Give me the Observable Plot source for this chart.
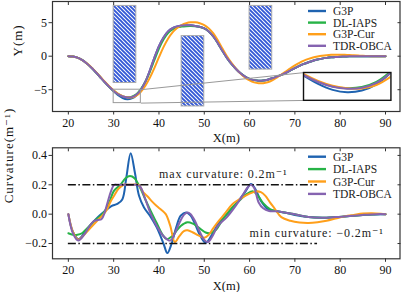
<!DOCTYPE html>
<html><head><meta charset="utf-8">
<script src="https://cdn.jsdelivr.net/npm/d3@7"></script>
<script src="https://cdn.jsdelivr.net/npm/@observablehq/plot@0.6"></script>
<style>
body{margin:0;background:#fff;}
#root{position:relative;width:401px;height:292px;overflow:hidden;font-family:"Liberation Serif","DejaVu Serif",serif;background:#fff;}
#root svg{position:absolute;}
#root svg text{font-family:"Liberation Serif","DejaVu Serif",serif;}
</style></head><body><div id="root"></div>
<script>
// ---------- data ----------
const seriesNames = ["G3P", "DL-IAPS", "G3P-Cur", "TDR-OBCA"];
const seriesColors = ["#1f63b0", "#27b347", "#ff9f1a", "#8563b0"];
const xTicks = [20, 30, 40, 50, 60, 70, 80, 90];
const yTicksTop = [-5, 0, 5];
const yTicksBottom = [-0.2, 0, 0.2, 0.4];

const pathX = [20,21,22,23,24,25,26,27,28,29,30,31,32,33,34,35,36,37,38,39,40,41,42,43,44,45,46,47,48,49,50,51,52,53,54,55,56,57,58,59,60,61,62,63,64,65,66,67,68,69,70,71,72,73,74,75,76,77,78,79,80,81,82,83,84,85,86,87,88,89,90];
const pathG3P = [0,-0.05,-0.22,-0.55,-1.05,-1.65,-2.35,-3.1,-3.85,-4.55,
  -5.22,-5.82,-6.25,-6.42,-6.3,-5.85,-5.0,-3.8,-2.1,-0.2,
  1.5,2.8,3.7,4.2,4.45,4.58,4.62,4.6,4.52,4.38,
  4.15,3.7,2.95,1.95,0.8,-0.25,-1.15,-1.9,-2.55,-3.05,
  -3.38,-3.57,-3.65,-3.62,-3.5,-3.3,-3.05,-2.78,-2.47,-2.13,
  -1.78,-1.45,-1.15,-0.9,-0.68,-0.5,-0.36,-0.25,-0.17,-0.11,
  -0.07,-0.04,-0.02,-0.01,0,0,0,0,0,0,0];
const pathDLIAPS = [0,-0.05,-0.22,-0.55,-1.05,-1.65,-2.35,-3.1,-3.85,-4.55,
  -5.17,-5.66,-6.0,-6.13,-6.05,-5.68,-4.9,-3.8,-2.3,-0.55,
  1.15,2.5,3.45,4.0,4.3,4.42,4.48,4.5,4.47,4.36,
  4.15,3.7,2.95,1.95,0.8,-0.25,-1.15,-1.9,-2.55,-3.05,
  -3.38,-3.57,-3.65,-3.62,-3.5,-3.3,-3.05,-2.78,-2.47,-2.13,
  -1.78,-1.45,-1.15,-0.9,-0.68,-0.5,-0.36,-0.25,-0.17,-0.11,
  -0.07,-0.04,-0.02,-0.01,0,0,0,0,0,0,0];
const pathG3PCur = [0,-0.05,-0.22,-0.55,-1.03,-1.62,-2.3,-3.03,-3.78,-4.48,
  -5.1,-5.6,-5.95,-6.13,-6.15,-5.9,-5.3,-4.4,-3.2,-1.75,
  -0.15,1.35,2.6,3.55,4.2,4.65,4.92,5.05,5.05,4.92,
  4.65,4.15,3.4,2.35,1.15,0.0,-1.0,-1.85,-2.6,-3.2,
  -3.62,-3.9,-4.03,-4.02,-3.88,-3.6,-3.2,-2.75,-2.28,-1.8,
  -1.37,-0.98,-0.66,-0.4,-0.2,-0.05,0.07,0.15,0.2,0.22,
  0.22,0.2,0.17,0.13,0.09,0.05,0.03,0.01,0,0,0];
const pathTDROBCA = [0,-0.05,-0.22,-0.55,-1.05,-1.65,-2.35,-3.1,-3.85,-4.55,
  -5.18,-5.68,-6.02,-6.16,-6.1,-5.75,-5.0,-3.8,-2.1,-0.2,
  1.5,2.8,3.7,4.2,4.45,4.58,4.62,4.6,4.52,4.38,
  4.15,3.7,2.95,1.95,0.8,-0.25,-1.15,-1.9,-2.55,-3.05,
  -3.38,-3.57,-3.65,-3.62,-3.5,-3.3,-3.05,-2.78,-2.47,-2.13,
  -1.78,-1.45,-1.15,-0.9,-0.68,-0.5,-0.36,-0.25,-0.17,-0.11,
  -0.07,-0.04,-0.02,-0.01,0,0,0,0,0,0,0];

// obstacles
const obsX1 = [30, 45, 60];
const obsX2 = [35, 50, 65];
const obsY1 = [-4, -7.5, -2];
const obsY2 = [7.5, 3, 7.5];

// zoomed region and where the inset sits (data coords of the top panel)
const zoomX = [30, 36];
const zoomY = [-7, -5];
const insetX = [72, 91.3];
const insetY = [-6.6, -2.45];

// curvature
const kxG3P = [20,21,22.2,23.5,25,26.5,28,29.5,30.8,31.9,32.8,33.75,34.7,35.6,36.7,38,39.5,41,41.85,42.8,43.8,44.8,46,47,48,49,50.3,51.5,53,55,57,59,60.3,61.3,62.5,64,66,68,70,73,76,80,84,87,90];
const kG3P = [0,-0.12,-0.17,-0.13,-0.07,-0.02,0.02,0.055,0.07,0.1,0.25,0.415,0.28,0.125,0.045,-0.01,-0.09,-0.2,-0.265,-0.2,-0.09,-0.01,0.012,-0.01,-0.07,-0.14,-0.195,-0.15,-0.07,0.0,0.07,0.15,0.205,0.17,0.09,0.035,0.02,0.01,-0.005,-0.02,-0.025,-0.02,-0.008,-0.002,0];
const kxDLIAPS = [20,21,22,23,24,25,26,27,28,28.9,30.1,31.5,32.6,33.6,34.6,36,37,38.2,39.5,40.8,41.7,42.7,43.7,44.8,46.3,47.5,48.7,50.3,51.3,52.5,54,56,58,59.5,60.8,62,63,64.5,66,68,70,73,76,79,82,85,88,90];
const kDLIAPS = [-0.13,-0.14,-0.14,-0.13,-0.1,-0.07,-0.04,-0.015,0.02,0.07,0.16,0.2,0.245,0.26,0.245,0.17,0.1,0.02,-0.06,-0.14,-0.17,-0.155,-0.12,-0.08,-0.055,-0.065,-0.09,-0.125,-0.13,-0.11,-0.04,0.04,0.1,0.14,0.155,0.12,0.075,0.035,0.02,0.01,0.0,-0.02,-0.025,-0.02,-0.012,-0.005,0,0];
const kxG3PCur = [20,21,22.2,23.5,25,26.5,27.5,28.5,29.3,30.1,31,32.2,33,34,35.5,36.5,37.5,38.5,39.5,40.5,41.5,42.5,43.5,44.5,45.5,46.3,47.5,48.7,50,51,52,53.2,54.7,56.2,58.4,60,61.5,62.5,63.5,64.5,65.5,67,69,71,73,75,77,79,81,83,85,87,89,90];
const kG3PCur = [0,-0.12,-0.175,-0.14,-0.09,-0.04,-0.01,0.03,0.085,0.125,0.17,0.2,0.2,0.2,0.2,0.15,0.12,0.085,0.055,0.03,0.0,-0.08,-0.19,-0.15,-0.115,-0.11,-0.125,-0.145,-0.16,-0.14,-0.095,-0.046,0.01,0.068,0.113,0.14,0.155,0.15,0.125,0.08,0.04,-0.02,-0.045,-0.057,-0.06,-0.055,-0.045,-0.03,-0.015,-0.005,0.004,0.006,0.003,0];
const kxTDROBCA = [20,21,22.2,23.5,24.5,25.5,26.5,27.3,28,28.7,29.4,30.1,31,32,33,34,35,35.8,37,38.2,39.5,41,42.5,43.5,44.5,45.5,46.3,47,48,49,50,50.8,51.8,53,55,57,58.5,59.5,60.3,61,62,63,64.3,66,68,70,73,76,79,82,85,88,90];
const kTDROBCA = [0,-0.13,-0.18,-0.14,-0.09,-0.05,-0.04,-0.035,0.01,0.085,0.155,0.2,0.2,0.2,0.2,0.2,0.2,0.19,0.1,0.0,-0.08,-0.15,-0.18,-0.13,-0.06,-0.005,0.012,0.0,-0.05,-0.12,-0.175,-0.19,-0.15,-0.08,-0.02,0.06,0.13,0.18,0.2,0.18,0.08,0.04,0.022,0.02,0.01,0.0,-0.02,-0.025,-0.02,-0.012,-0.005,0,0];

const limitValues = [0.2, -0.2];
const limitX = [20, 75];
const annoX = [40, 60];
const annoY = [0.275, -0.13];
const annoText = ["max curvature: 0.2m\u207B\u00B9", "min curvature: \u22120.2m\u207B\u00B9"];

// ---------- build tables ----------
const pathSeries = [pathG3P, pathDLIAPS, pathG3PCur, pathTDROBCA];
const pathRows = pathSeries.flatMap((ys, i) => ys.map((y, j) => ({x: pathX[j], y, s: seriesNames[i]})));
const kxSeries = [kxG3P, kxDLIAPS, kxG3PCur, kxTDROBCA];
const kSeries = [kG3P, kDLIAPS, kG3PCur, kTDROBCA];
const curvRows = kSeries.flatMap((ks, i) => ks.map((k, j) => ({x: kxSeries[i][j], k, s: seriesNames[i]})));
const obstacles = obsX1.map((d, i) => ({x1: d, x2: obsX2[i], y1: obsY1[i], y2: obsY2[i]}));
const zoomBox = [{x1: zoomX[0], x2: zoomX[1], y1: zoomY[0], y2: zoomY[1]}];
const insetBox = [{x1: insetX[0], x2: insetX[1], y1: insetY[0], y2: insetY[1]}];
const connectors = [
  {x1: zoomX[1], y1: zoomY[1], x2: insetX[0], y2: insetY[1]},
  {x1: zoomX[1], y1: zoomY[0], x2: insetX[0], y2: insetY[0]}
];
const annos = annoText.map((t, i) => ({x: annoX[i], y: annoY[i], t}));

// ---------- styles ----------
const FONT = "Liberation Serif, DejaVu Serif, serif";
const AX = "#333";
const xDomain = [16.5, 93.2];
const colorScale = {domain: seriesNames, range: seriesColors};
const baseStyle = {fontFamily: FONT, fontSize: "12px", background: "transparent", overflow: "visible", color: "#111"};

const root = document.getElementById("root");
root.insertAdjacentHTML("beforeend",
  `<svg width="0" height="0" style="left:0;top:0"><defs>
    <pattern id="hatch" patternUnits="userSpaceOnUse" width="4" height="4">
      <rect width="4" height="4" fill="#fff"/>
      <path d="M-1,-1L5,5M-1,3L1,5M3,-1L5,1" stroke="#3358d6" stroke-width="1.9"/>
    </pattern></defs></svg>`);

function axes(yTicks, yFormat) {
  return [
    Plot.axisX({ticks: xTicks, anchor: "bottom", tickSize: 3.5, tickPadding: 3, label: null, stroke: AX}),
    Plot.axisX({ticks: xTicks, anchor: "top", tickSize: -3, tickFormat: () => "", label: null, stroke: AX}),
    Plot.axisY({ticks: yTicks, anchor: "left", tickSize: 3.5, tickPadding: 2, label: null, tickFormat: yFormat, stroke: AX}),
    Plot.axisY({ticks: yTicks, anchor: "right", tickSize: -3, tickFormat: () => "", label: null, stroke: AX})
  ];
}

// ---------- top panel ----------
const topPlot = Plot.plot({
  width: 401, height: 145,
  marginLeft: 52, marginRight: 1.5, marginTop: 1, marginBottom: 34,
  x: {domain: xDomain},
  y: {domain: [-8.25, 8.16]},
  color: colorScale,
  style: baseStyle,
  marks: [
    Plot.rect(obstacles, {x1: "x1", x2: "x2", y1: "y1", y2: "y2", fill: "url(#hatch)", stroke: "#aaa", strokeWidth: 1}),
    Plot.line(pathRows, {x: "x", y: "y", z: "s", stroke: "s", strokeWidth: 2, curve: "catmull-rom"}),
    Plot.rect(zoomBox, {x1: "x1", x2: "x2", y1: "y1", y2: "y2", fill: "none", stroke: "#999", strokeWidth: 1}),
    Plot.link(connectors, {x1: "x1", y1: "y1", x2: "x2", y2: "y2", stroke: "#999", strokeWidth: 1}),
    Plot.rect(insetBox, {x1: "x1", x2: "x2", y1: "y1", y2: "y2", fill: "#fff"}),
    Plot.frame({stroke: AX, strokeWidth: 1.2}),
    ...axes(yTicksTop, undefined),
    Plot.text(["X(m)"], {frameAnchor: "bottom", text: d => d, dy: 26, lineAnchor: "middle", fontSize: 12.5}),
    Plot.text(["Y(m)"], {frameAnchor: "left", text: d => d, rotate: -90, dx: -35, lineAnchor: "middle", fontSize: 13})
  ]
});
topPlot.style.left = "0px"; topPlot.style.top = "0px";
root.appendChild(topPlot);

// inset
const xs = topPlot.scale("x"), ys = topPlot.scale("y");
const iL = xs.apply(insetX[0]), iR = xs.apply(insetX[1]);
const iT = ys.apply(insetY[1]), iB = ys.apply(insetY[0]);
const insetPlot = Plot.plot({
  width: iR - iL, height: iB - iT,
  margin: 0,
  x: {domain: zoomX, axis: null},
  y: {domain: zoomY, axis: null},
  color: colorScale,
  style: baseStyle,
  marks: [
    Plot.line(pathRows, {x: "x", y: "y", z: "s", stroke: "s", strokeWidth: 2, curve: "catmull-rom", clip: true}),
    Plot.frame({stroke: "#111", strokeWidth: 1.4})
  ]
});
insetPlot.style.left = iL + "px"; insetPlot.style.top = iT + "px";
root.appendChild(insetPlot);

// ---------- bottom panel ----------
const botTop = 140;
const botPlot = Plot.plot({
  width: 401, height: 152,
  marginLeft: 52, marginRight: 1.5, marginTop: 7.3, marginBottom: 33.7,
  x: {domain: xDomain},
  y: {domain: [-0.304, 0.452]},
  color: colorScale,
  style: baseStyle,
  marks: [
    Plot.line(curvRows, {x: "x", y: "k", z: "s", stroke: "s", strokeWidth: 2, curve: "catmull-rom"}),
    Plot.ruleY(limitValues, {x1: limitX[0], x2: limitX[1], stroke: "#111", strokeWidth: 1.6, strokeDasharray: "8,2.5,1.5,2.5"}),
    Plot.text(annos, {x: "x", y: "y", text: "t", textAnchor: "start", fontSize: 12, fill: "#222"}),
    Plot.frame({stroke: AX, strokeWidth: 1.2}),
    ...axes(yTicksBottom, d3.format(".1f")),
    Plot.text(["X(m)"], {frameAnchor: "bottom", text: d => d, dy: 27, lineAnchor: "middle", fontSize: 12.5}),
    Plot.text(["Curvature(m\u207B\u00B9)"], {frameAnchor: "left", text: d => d, rotate: -90, dx: -43.5, lineAnchor: "middle", fontSize: 13})
  ]
});
botPlot.style.left = "0px"; botPlot.style.top = botTop + "px";
root.appendChild(botPlot);

// letter spacing tweaks for wide serif look
for (const svg of [topPlot, botPlot]) {
  svg.querySelectorAll("text").forEach(t => {
    const s = t.textContent;
    if (s.startsWith("max") || s.startsWith("min")) t.setAttribute("letter-spacing", "0.9");
    if (s === "Y(m)" || s.startsWith("Curvature")) t.setAttribute("letter-spacing", "1");
  });
}

// ---------- legends ----------
function legend(rowStart, rowStep) {
  const svg = d3.create("svg").attr("width", 401).attr("height", 292)
    .style("left", "0px").style("top", "0px").style("overflow", "visible")
    .attr("font-family", FONT).attr("font-size", 11.5);
  seriesNames.forEach((name, i) => {
    const y = rowStart + i * rowStep;
    svg.append("line").attr("x1", 308).attr("x2", 326).attr("y1", y).attr("y2", y)
      .attr("stroke", seriesColors[i]).attr("stroke-width", 2.4);
    svg.append("text").attr("x", 333).attr("y", y).attr("dy", "0.35em").attr("fill", "#222").text(name);
  });
  root.appendChild(svg.node());
}
legend(11, 11.6);
legend(156.7, 12.4);
</script>
</body></html>
